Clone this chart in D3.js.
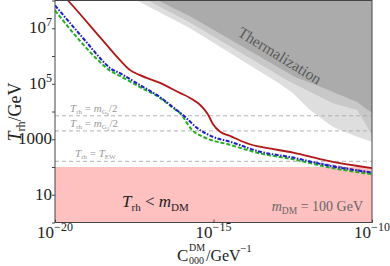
<!DOCTYPE html>
<html><head><meta charset="utf-8">
<script src="https://cdn.jsdelivr.net/npm/d3@7"></script>
<style>body{margin:0;background:#fff}svg{display:block}text{font-family:"Liberation Serif","DejaVu Serif",serif}</style>
</head><body><svg id="c" width="390" height="266"></svg>
<script>
// ---- data (log10 values) ----
const redLogC = [-19.75,-19.59,-18.5,-17.95,-17.63,-17.32,-16.69,-16.06,-15.74,-15.33,-15.17,-15.02,-14.79,-14.48,-13.85,-13.53,-12.49,-11.42,-10.0];
const redLogT = [8.2,8.0,6.57,5.85,5.49,5.31,5.03,4.67,4.49,4.13,3.88,3.55,3.27,3.12,2.82,2.73,2.52,2.23,1.96];
const blueLogC = [-20,-19.0,-18.52,-18.26,-17.95,-17.32,-16.69,-16.28,-15.90,-15.52,-15.02,-14.48,-13.53,-12.49,-11.42,-10.0];
const blueLogT = [7.82,6.49,5.85,5.56,5.38,4.95,4.52,4.16,3.81,3.41,3.09,2.91,2.55,2.34,2.06,1.80];
const greenLogC = [-20,-18.64,-18.3,-17.95,-17.32,-16.69,-16.28,-15.96,-15.84,-15.68,-15.33,-14.48,-13.53,-12.49,-11.42,-10.0];
const greenLogT = [7.64,5.85,5.5,5.28,4.88,4.49,4.13,3.81,3.59,3.34,3.09,2.80,2.49,2.28,2.00,1.74];
const purpleLogC = [-12.0,-11.0,-10.0];
const purpleLogT = [2.2,2.0,1.77];
const lightLogC = [-17.41,-15.74,-13.0,-12.49,-11.96,-11.23,-10.47,-10.0];
const lightLogT = [8.0,7.0,5.06,4.66,4.05,3.44,3.09,2.91];
const midLogC = [-17.07,-15.74,-12.68,-11.23,-10.47,-10.0];
const midLogT = [8.0,7.21,5.13,4.30,4.05,3.16];
const darkLogC = [-16.75,-15.74,-12.43,-11.74,-10.47,-10.0];
const darkLogT = [8.0,7.43,5.24,4.95,4.34,3.95];
const refLines = [7000, 2000, 160];
const mDM = 100;
const xTicks = [-20,-15,-10];
const yTicks = [1,3,5,7];

// ---- layout ----
const L=55, R=372, T=0.5, B=222.5;
const svg = d3.select('#c');
const x = d3.scaleLog().domain([1e-20,1e-10]).range([L,R]);
const y = d3.scaleLog().domain([1,1e8]).range([B,T]);
const pts = (lc,lt) => lc.map((c,i)=>[Math.pow(10,c),Math.pow(10,lt[i])]);

svg.append('clipPath').attr('id','clip').append('rect').attr('x',L).attr('y',T).attr('width',R-L).attr('height',B-T);
const plot = svg.append('g').attr('clip-path','url(#clip)');

// thermalization regions
const area = (lc,lt,col)=>{
  const p = pts(lc,lt).concat([[1e-10,1e8]]);
  plot.append('path').attr('d', d3.line().x(d=>x(d[0])).y(d=>y(d[1]))(p)+'Z').attr('fill',col);
};
area(lightLogC,lightLogT,'#dedede');
area(midLogC,midLogT,'#c8c8c8');
area(darkLogC,darkLogT,'#ababab');

// forbidden region
plot.append('rect').attr('x',L).attr('width',R-L).attr('y',y(mDM)).attr('height',B-y(mDM)).attr('fill','#ffc0c0');

// reference lines
refLines.forEach(v=>{
  plot.append('line').attr('x1',L).attr('x2',R).attr('y1',y(v)).attr('y2',y(v))
    .attr('stroke','#aaa').attr('stroke-width',0.9).attr('stroke-dasharray','4,3');
});

// curves
const line = d3.line().x(d=>x(d[0])).y(d=>y(d[1])).curve(d3.curveMonotoneX);
plot.append('path').attr('d',line(pts(purpleLogC,purpleLogT))).attr('fill','none').attr('stroke','#9270b8').attr('stroke-width',2).attr('stroke-dasharray','4,2');
plot.append('path').attr('d',line(pts(greenLogC,greenLogT))).attr('fill','none').attr('stroke','#22b022').attr('stroke-width',2).attr('stroke-dasharray','4,2');
plot.append('path').attr('d',line(pts(blueLogC,blueLogT))).attr('fill','none').attr('stroke','#1c1cc8').attr('stroke-width',2).attr('stroke-dasharray','4,1.5,1.5,1.5');
plot.append('path').attr('d',line(pts(redLogC,redLogT))).attr('fill','none').attr('stroke','#b01818').attr('stroke-width',1.8);

// rich text helper
function rich(g,px,py,segs,o){
  o=o||{};
  const t=g.append('text').attr('x',px).attr('y',py).attr('font-size',o.size||14).attr('fill',o.fill||'#222');
  if(o.anchor) t.attr('text-anchor',o.anchor);
  if(o.transform) t.attr('transform',o.transform);
  let cur=0;
  segs.forEach(s=>{
    const off=s.o||0;
    const ts=t.append('tspan').attr('dy',off-cur).text(s.t);
    if(s.s) ts.attr('font-size',s.s);
    if(s.i) ts.attr('font-style','italic');
    cur=off;
  });
  return t;
}

// thermalization label
svg.append('text').attr('x',0).attr('y',0).attr('transform','translate(277,60) rotate(31.5)')
  .attr('text-anchor','middle').attr('font-size',15.5).attr('fill','#5a5a5a').text('Thermalization');

// ref line labels
const lab = (py,sub)=>rich(svg,70,py,[{t:'T',i:1},{t:'rh',s:7,o:2},{t:' = ',o:0},{t:'m',i:1},{t:'G',s:7,o:2},{t:sub,s:5.5,o:4},{t:'/2',o:0}],{size:11,fill:'#999'});
lab(y(refLines[0])-4,'s');
lab(y(refLines[1])-4,'1');
rich(svg,75,y(refLines[2])-4,[{t:'T',i:1},{t:'rh',s:7,o:2},{t:' = ',o:0},{t:'T',i:1},{t:'EW',s:7,o:2}],{size:11,fill:'#999'});

// region labels
rich(svg,122,207,[{t:'T',i:1},{t:'rh',s:11,o:4},{t:' < ',o:0},{t:'m',i:1},{t:'DM',s:11,o:4}],{size:17,fill:'#222'});
rich(svg,363,211,[{t:'m',i:1},{t:'DM',s:9.5,o:3},{t:' = 100 GeV',o:0}],{size:14,fill:'#666',anchor:'end'});

// axes
const xa = svg.append('g').attr('transform',`translate(0,${B})`)
  .call(d3.axisBottom(x).tickValues(xTicks.map(v=>Math.pow(10,v))).tickSize(-3).tickFormat(()=>''));
const ya = svg.append('g').attr('transform',`translate(${L},0)`)
  .call(d3.axisLeft(y).tickValues(d3.range(0,9).map(v=>Math.pow(10,v))).tickSize(3).tickFormat(()=>''));
[xa,ya].forEach(a=>{a.select('.domain').remove(); a.selectAll('line').attr('stroke','#444');});

xTicks.forEach(v=>{
  rich(svg,x(Math.pow(10,v)),238,[{t:'10'},{t:'−'+(-v),s:12,o:-7}],{size:17,anchor:'middle'});
});
yTicks.forEach(v=>{
  const yy=y(Math.pow(10,v))+5;
  if(v===3) rich(svg,52,yy,[{t:'1000'}],{size:17,anchor:'end'});
  else if(v===1) rich(svg,52,yy,[{t:'10'}],{size:17,anchor:'end'});
  else rich(svg,52,yy,[{t:'10'},{t:String(v),s:12,o:-7}],{size:17,anchor:'end'});
});

// frame
svg.append('rect').attr('x',L).attr('y',T).attr('width',R-L).attr('height',B-T).attr('fill','none').attr('stroke','#444').attr('stroke-width',1);

// axis labels
rich(svg,0,0,[{t:'T',i:1},{t:'rh',s:12,o:4},{t:'/GeV',o:0}],{size:18,anchor:'middle',transform:'translate(21,112) rotate(-90)'});
svg.append('text').attr('x',177).attr('y',261).attr('font-size',17).attr('fill','#222').text('C');
svg.append('text').attr('x',189).attr('y',251).attr('font-size',10).attr('fill','#222').text('DM');
svg.append('text').attr('x',189).attr('y',264).attr('font-size',10).attr('fill','#222').text('000');
svg.append('text').attr('x',206).attr('y',261).attr('font-size',16).attr('fill','#222').text('/GeV');
svg.append('text').attr('x',240).attr('y',252).attr('font-size',11).attr('fill','#222').text('−1');
</script></body></html>
